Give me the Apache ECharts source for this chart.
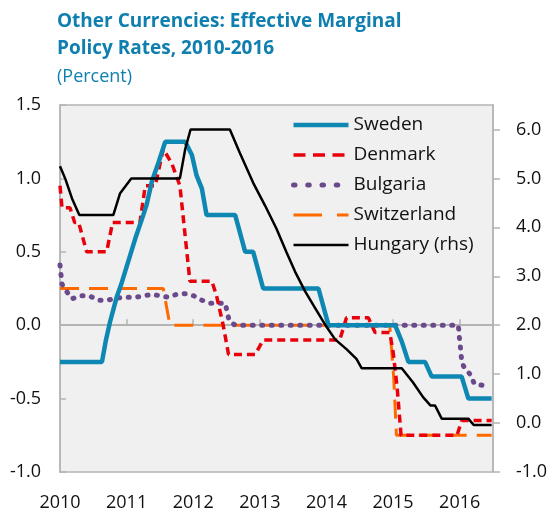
<!DOCTYPE html>
<html>
<head>
<meta charset="utf-8">
<script src="https://cdn.jsdelivr.net/npm/echarts@6/dist/echarts.min.js"></script>
<style>
  html, body { margin: 0; padding: 0; background: #fff; }
  #chart { width: 553px; height: 512px; }
</style>
</head>
<body>
<div id="chart"></div>
<script>
// [year, percent]
var sweden = [
  [2010.00, -0.25], [2010.63, -0.25], [2010.69, -0.10], [2010.75, 0.02], [2010.85, 0.19],
  [2010.92, 0.28], [2011.13, 0.59], [2011.25, 0.75], [2011.30, 0.82], [2011.38, 0.98],
  [2011.48, 1.11], [2011.58, 1.25], [2011.88, 1.25], [2011.98, 1.16], [2012.05, 1.02],
  [2012.13, 0.93], [2012.20, 0.75], [2012.63, 0.75], [2012.78, 0.50], [2012.90, 0.50],
  [2013.05, 0.25], [2013.88, 0.25], [2014.03, 0.00], [2015.03, 0.00], [2015.13, -0.11],
  [2015.23, -0.25], [2015.48, -0.25], [2015.58, -0.35], [2016.03, -0.35], [2016.13, -0.50],
  [2016.48, -0.50]
]
var denmark = [
  [2010.00, 0.95], [2010.03, 0.80], [2010.15, 0.80], [2010.22, 0.70], [2010.28, 0.70],
  [2010.40, 0.50], [2010.70, 0.50], [2010.79, 0.70], [2011.20, 0.70], [2011.28, 0.95],
  [2011.43, 0.95], [2011.55, 1.20], [2011.68, 1.10], [2011.80, 0.95], [2011.95, 0.30],
  [2012.28, 0.30], [2012.35, 0.20], [2012.45, 0.00], [2012.53, -0.20], [2012.93, -0.20],
  [2013.05, -0.10], [2014.20, -0.10], [2014.30, 0.05], [2014.63, 0.05], [2014.73, -0.05],
  [2014.95, -0.05], [2015.00, -0.18], [2015.06, -0.42], [2015.12, -0.75], [2015.96, -0.75],
  [2016.03, -0.65], [2016.48, -0.65]
]
var bulgaria = [
  [2010.00, 0.41], [2010.03, 0.28], [2010.10, 0.23], [2010.18, 0.18], [2010.30, 0.20],
  [2010.44, 0.20], [2010.58, 0.17], [2010.71, 0.17], [2010.85, 0.185], [2010.99, 0.19],
  [2011.13, 0.19], [2011.26, 0.20], [2011.39, 0.21], [2011.50, 0.20], [2011.63, 0.19],
  [2011.75, 0.21], [2011.89, 0.215], [2012.01, 0.20], [2012.13, 0.17], [2012.26, 0.15],
  [2012.48, 0.15], [2012.51, 0.09], [2012.54, 0.03], [2012.63, 0.00], [2015.98, 0.00],
  [2015.99, -0.06], [2016.02, -0.19], [2016.03, -0.25], [2016.08, -0.30], [2016.16, -0.335],
  [2016.22, -0.40], [2016.35, -0.41]
]
var switzerland = [
  [2010.00, 0.25], [2011.55, 0.25], [2011.65, 0.00], [2014.95, 0.00], [2015.01, -0.36],
  [2015.05, -0.75], [2016.48, -0.75]
]
// right-hand scale
var hungary = [
  [2010.00, 5.25], [2010.08, 4.99], [2010.18, 4.59], [2010.29, 4.25], [2010.80, 4.25],
  [2010.90, 4.69], [2011.07, 5.00], [2011.80, 5.00], [2011.88, 5.60], [2011.96, 6.00],
  [2012.55, 6.00], [2012.70, 5.52], [2012.90, 4.91], [2013.08, 4.44], [2013.25, 3.97],
  [2013.40, 3.49], [2013.53, 3.09], [2013.68, 2.69], [2013.83, 2.35], [2013.98, 2.01],
  [2014.13, 1.71], [2014.30, 1.51], [2014.45, 1.31], [2014.53, 1.12], [2015.13, 1.12],
  [2015.30, 0.83], [2015.45, 0.53], [2015.56, 0.36], [2015.63, 0.36], [2015.73, 0.09],
  [2016.13, 0.09], [2016.21, -0.04], [2016.48, -0.04]
]

var font = 'Open Sans'
var axisGrey = '#b4b4b4'

// line looks, shared by series and legend keys
var looks = {
  'Sweden': { color: '#0f87b3', width: 4.5, type: 'solid', cap: 'butt' },
  'Denmark': { color: '#e8000b', width: 3.5, type: [8, 5], cap: 'butt' },
  'Bulgaria': { color: '#6b4a8c', width: 5, type: [1, 8.5], cap: 'round' },
  'Switzerland': { color: '#ff6a00', width: 3, type: [19, 10], cap: 'butt' },
  'Hungary (rhs)': { color: '#000', width: 2.5, type: 'solid', cap: 'butt' }
}

function makeSeries(name, data, axis, z) {
  return {
    name: name,
    type: 'line',
    yAxisIndex: axis,
    data: data,
    symbol: 'none',
    z: z,
    lineStyle: looks[name],
    itemStyle: { color: looks[name].color }
  }
}

// legend keys come out with tighter dashes, so stretch them
function legendDash(t) {
  if (!Array.isArray(t)) return t
  return t.map(function (n) { return n * 1.5 })
}

var chart = echarts.init(document.getElementById('chart'))

var option = {
  backgroundColor: '#fff',
  textStyle: { fontFamily: font },
  title: {
    left: 57,
    top: 8,
    padding: 0,
    text: 'Other Currencies: Effective Marginal\nPolicy Rates, 2010-2016',
    subtext: '(Percent)',
    itemGap: 3,
    textStyle: { fontFamily: font, fontSize: 19, fontWeight: 'bold', color: '#0e7fae', lineHeight: 27 },
    subtextStyle: { fontFamily: font, fontSize: 18, color: '#0e7fae', lineHeight: 24 }
  },
  legend: {
    left: 291,
    top: 115,
    padding: 0,
    orient: 'vertical',
    itemWidth: 55,
    itemHeight: 14,
    itemGap: 10,
    itemStyle: { opacity: 0 },
    textStyle: { fontFamily: font, fontSize: 19, color: '#111', lineHeight: 20 },
    data: ['Sweden', 'Denmark', 'Bulgaria', 'Switzerland', 'Hungary (rhs)'].map(function (n) {
      return {
        name: n,
        lineStyle: { width: looks[n].width, type: legendDash(looks[n].type), cap: looks[n].cap }
      }
    })
  },
  grid: {
    left: 60,
    right: 60,
    top: 105,
    bottom: 38,
    show: true,
    backgroundColor: '#f0f0f0',
    borderColor: axisGrey,
    borderWidth: 1.5
  },
  xAxis: [{
    // line and ticks on the zero level
    type: 'value',
    min: 2010,
    max: 2016.5,
    interval: 1,
    axisLine: { onZero: true, onZeroAxisIndex: 0, lineStyle: { color: axisGrey, width: 2 } },
    axisTick: { inside: true, length: 6, lineStyle: { color: axisGrey, width: 1.5 } },
    axisLabel: { show: false },
    splitLine: { show: false }
  }, {
    // year labels along the bottom
    type: 'value',
    position: 'bottom',
    min: 2010,
    max: 2016.5,
    interval: 1,
    axisLine: { show: false, onZero: false },
    axisTick: { show: false },
    axisLabel: {
      margin: 22,
      fontSize: 18,
      color: '#111',
      showMaxLabel: false,
      formatter: function (v) { return String(v) }
    },
    splitLine: { show: false }
  }],
  yAxis: [{
    type: 'value',
    min: -1,
    max: 1.5,
    interval: 0.5,
    axisLine: { show: true, lineStyle: { color: axisGrey, width: 1.5 } },
    axisTick: { show: true, inside: true, length: 6, lineStyle: { color: axisGrey, width: 1.5 } },
    axisLabel: {
      margin: 19,
      fontSize: 18,
      color: '#111',
      formatter: function (v) { return v.toFixed(1) }
    },
    splitLine: { show: false }
  }, {
    type: 'value',
    position: 'right',
    min: -1,
    max: 6.5,
    interval: 1,
    axisLine: { show: true, lineStyle: { color: axisGrey, width: 1.5 } },
    axisTick: { show: true, inside: false, length: 7, lineStyle: { color: axisGrey, width: 1.5 } },
    axisLabel: {
      margin: 23,
      fontSize: 18,
      color: '#111',
      showMaxLabel: false,
      formatter: function (v) { return v.toFixed(1) }
    },
    splitLine: { show: false }
  }],
  series: [
    makeSeries('Switzerland', switzerland, 0, 2),
    makeSeries('Bulgaria', bulgaria, 0, 3),
    makeSeries('Denmark', denmark, 0, 4),
    makeSeries('Sweden', sweden, 0, 5),
    makeSeries('Hungary (rhs)', hungary, 1, 6)
  ]
}

chart.setOption(option)
</script>
</body>
</html>
